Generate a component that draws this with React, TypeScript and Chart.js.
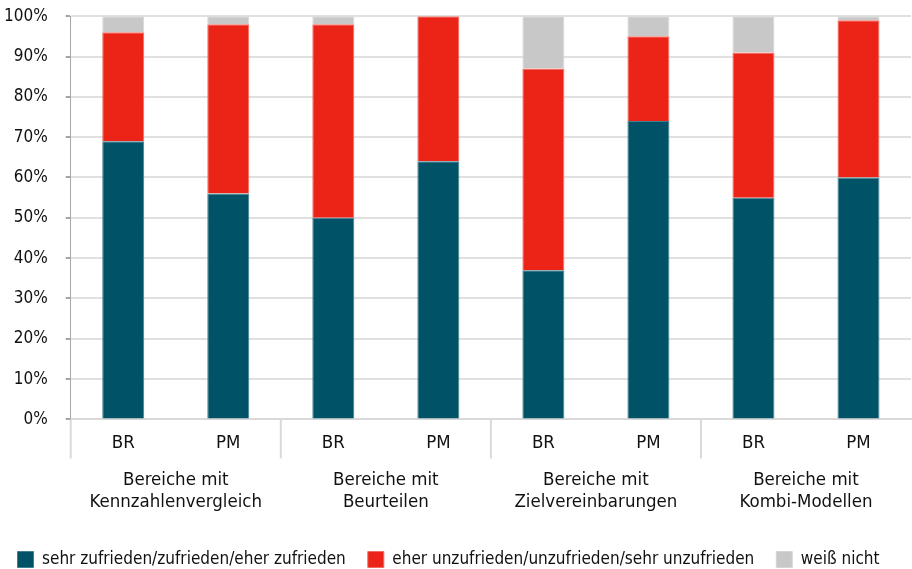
import { useEffect, useRef } from "react";
import { Chart, registerables } from "chart.js";

Chart.register(...registerables);

const categories = ["BR", "PM", "BR", "PM", "BR", "PM", "BR", "PM"];
const groups = [
  ["Bereiche mit", "Kennzahlenvergleich"],
  ["Bereiche mit", "Beurteilen"],
  ["Bereiche mit", "Zielvereinbarungen"],
  ["Bereiche mit", "Kombi-Modellen"],
];
const zufrieden = [69, 56, 50, 64, 37, 74, 55, 60];
const unzufrieden = [27, 42, 48, 36, 50, 21, 36, 39];
const weissNicht = [4, 2, 2, 0, 13, 5, 9, 1];
const seriesNames = [
  "sehr zufrieden/zufrieden/eher zufrieden",
  "eher unzufrieden/unzufrieden/sehr unzufrieden",
  "weiß nicht",
];

const FONT = '"Liberation Sans Narrow", "DejaVu Sans Condensed", "Roboto Condensed", sans-serif';
const TEXT = "#111111";

const separatorPlugin = {
  id: "groupSeparators",
  afterDraw(chart: any) {
    const x = chart.scales.x;
    const area = chart.chartArea;
    const ctx = chart.ctx;
    const n = categories.length;
    const half = (x.getPixelForValue(1) - x.getPixelForValue(0)) / 2;
    ctx.save();
    ctx.strokeStyle = "#d9d9d9";
    ctx.lineWidth = 2;
    for (let i = 0; i < n; i += 2) {
      const px = x.getPixelForValue(i) - half;
      ctx.beginPath();
      ctx.moveTo(px, area.bottom);
      ctx.lineTo(px, area.bottom + 39);
      ctx.stroke();
    }
    ctx.restore();
  },
};

export default function App() {
  const ref = useRef<HTMLCanvasElement | null>(null);
  useEffect(() => {
    if (!ref.current) return;
    const chart = new Chart(ref.current, {
      type: "bar",
      data: {
        labels: categories,
        datasets: [
          { label: seriesNames[0], data: zufrieden, backgroundColor: "#005266", borderColor: "#3f7f90", borderWidth: 1 },
          { label: seriesNames[1], data: unzufrieden, backgroundColor: "#ec2418", borderColor: "#f06a5f", borderWidth: 1 },
          { label: seriesNames[2], data: weissNicht, backgroundColor: "#c8c8c8", borderColor: "#d6d6d6", borderWidth: 1 },
        ],
      },
      options: {
        animation: false,
        responsive: true,
        maintainAspectRatio: false,
        datasets: { bar: { barPercentage: 0.4, categoryPercentage: 1 } },
        layout: { padding: { left: -11, right: 1, top: 0, bottom: -9 } },
        plugins: {
          tooltip: { enabled: false },
          legend: {
            position: "bottom",
            labels: {
              font: { family: FONT, size: 17 },
              color: TEXT,
              boxWidth: 16,
              boxHeight: 16,
              padding: 22,
            },
          },
        },
        scales: {
          x: {
            stacked: true,
            grid: { display: false },
            border: { display: true, color: "#d9d9d9", width: 2 },
            ticks: { font: { family: FONT, size: 18.5 }, color: TEXT, padding: 5 },
          },
          x2: {
            type: "category",
            labels: groups as any,
            offset: true,
            position: "bottom",
            grid: { display: false },
            border: { display: false },
            ticks: { font: { family: FONT, size: 18.5, lineHeight: 1.2 }, color: TEXT, padding: 1 },
            afterFit: (scale: any) => {
              scale.height += 15;
            },
          },
          y: {
            stacked: true,
            min: 0,
            max: 100,
            ticks: {
              stepSize: 10,
              font: { family: FONT, size: 17 },
              color: TEXT,
              padding: 18,
              callback: (v: any) => v + "%",
            },
            grid: { color: "#e0e0e0", lineWidth: 2, tickLength: 5, tickColor: "#a6a6a6" },
            border: { display: true, color: "#a6a6a6", width: 1 },
          },
        },
      },
      plugins: [separatorPlugin],
    });
    return () => chart.destroy();
  }, []);
  return (
    <div style={{ position: "fixed", left: -3, top: -12, width: 915, height: 581, background: "#fff" }}>
      <canvas ref={ref} />
    </div>
  );
}
